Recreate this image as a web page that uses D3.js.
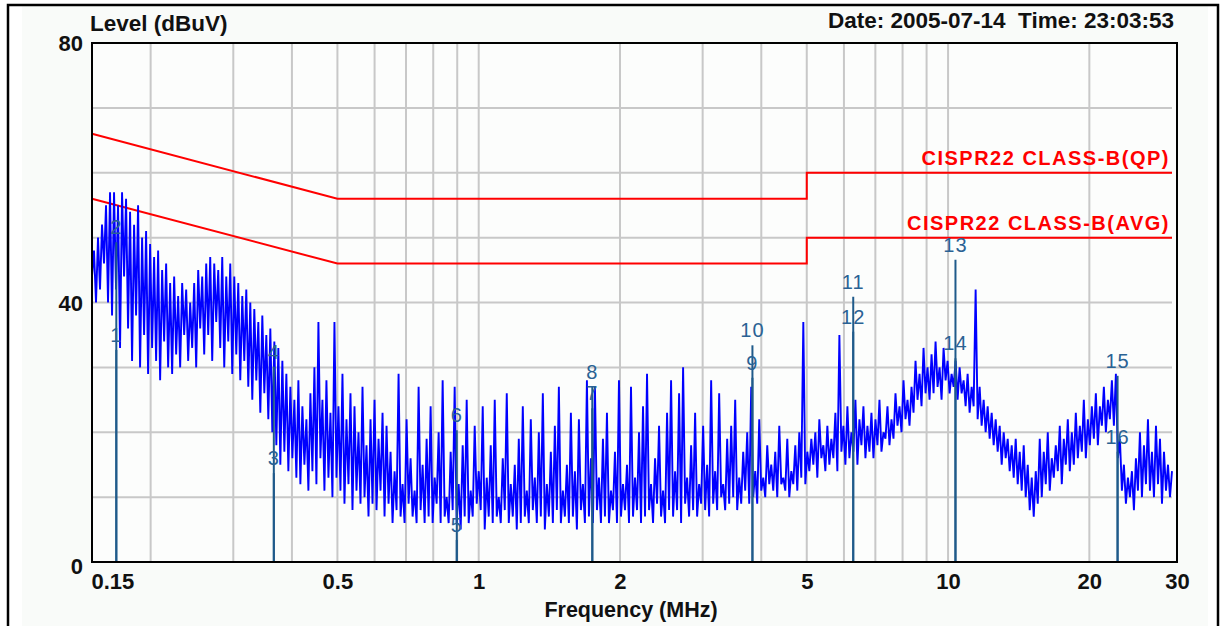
<!DOCTYPE html>
<html><head><meta charset="utf-8">
<script src="https://cdn.jsdelivr.net/npm/d3@7/dist/d3.min.js"></script>
<style>
html,body{margin:0;padding:0;background:#fff;}
svg{display:block;font-family:"Liberation Sans",Arial,sans-serif;}
</style></head>
<body>
<svg id="chart" width="1222" height="626"></svg>
<script>
// ---- data ----
const freqStart = 0.15, freqEnd = 30;           // sweep range, MHz (points log-spaced)
const levels = [
44,48,40,50,42,52,46,55,40,57,
38,57,42,55,33,57,44,56,36,54,
31,52,38,55,30,50,35,51,29,49,
33,47,31,48,28,45,34,46,30,43,
29,44,32,41,30,43,35,42,31,40,
33,43,30,45,36,44,32,46,35,47,
31,46,37,45,33,47,30,44,34,46,
29,44,32,43,28,41,31,42,27,40,
25,39,28,37,23,38,26,35,22,36,
20,34,18,33,15,31,17,29,14,27,
16,25,13,28,12,24,15,22,11,26,
14,30,12,37,16,25,11,28,13,23,
10,37,13,24,11,29,9,22,12,26,
8,24,11,20,9,27,10,18,7,22,
9,25,8,19,11,23,7,21,9,17,
6,14,8,29,7,12,6,22,9,16,
7,11,6,27,8,15,6,19,7,24,
6,13,9,20,6,28,7,10,6,17,
8,27,6,12,5,18,7,25,6,11,
7,21,9,14,8,24,5,13,7,18,
6,25,7,10,6,16,8,26,6,12,
7,15,5,19,6,24,7,11,6,22,
8,13,6,20,7,26,5,12,7,17,
6,21,8,27,6,11,7,15,6,23,
7,14,5,22,8,12,6,28,7,16,
6,27,8,13,6,19,7,23,6,11,
8,17,6,28,7,12,8,15,6,27,
7,13,8,20,6,24,7,29,8,12,
6,16,9,21,7,11,6,23,8,28,
7,14,8,26,6,30,9,13,7,18,
8,23,7,12,9,21,8,15,7,28,
9,14,8,26,10,12,8,19,9,21,
10,25,8,13,9,17,11,20,9,27,
10,14,9,22,11,13,10,18,12,15,
11,17,10,21,12,13,11,19,10,14,
12,18,11,20,13,37,12,17,14,19,
15,20,13,22,16,18,14,21,15,19,
16,23,14,35,17,21,15,24,16,20,
17,25,15,22,18,24,16,21,17,23,
16,22,18,25,17,20,19,24,18,22,
19,26,21,24,20,28,22,25,21,27,
23,31,25,29,24,33,26,30,25,32,
26,34,27,30,25,33,28,31,26,29,
27,31,25,30,26,28,24,29,23,27,
24,42,22,27,21,25,20,24,19,23,
18,22,17,21,15,20,16,19,14,18,
13,19,12,17,11,18,10,15,8,13,
7,14,9,19,10,17,12,20,11,16,
13,18,14,21,12,19,15,22,14,20,
15,23,16,21,17,25,16,22,18,24,
19,26,18,24,21,27,20,25,22,28,
21,29,16,19,11,15,9,13,10,14,
8,16,11,20,10,18,12,22,11,17,
10,21,12,19,9,17,11,15,10,14
];
const xTickValues = [0.15, 0.5, 1, 2, 5, 10, 20, 30];
const xGridValues = [0.2,0.3,0.4,0.5,0.6,0.7,0.8,0.9,1,2,3,4,5,6,7,8,9,10,20];
const yTickValues = [0, 40, 80];
const yGridValues = [10,20,30,40,50,60,70];
const qpLimitFreq = [0.15, 0.5, 5, 5, 30];
const qpLimitLevel = [66, 56, 56, 60, 60];
const avgLimitFreq = [0.15, 0.5, 5, 5, 30];
const avgLimitLevel = [56, 46, 46, 50, 50];
const markerIds = [1,2,3,4,5,6,7,8,9,10,11,12,13,14,15,16];
const markerFreqs = [0.169,0.169,0.366,0.366,0.898,0.898,1.746,1.746,3.83,3.83,6.28,6.28,10.37,10.37,22.97,22.97];
const markerLevels = [32.7,49.3,13.7,30.1,3.4,20.3,23.7,27.0,28.4,33.4,40.9,35.5,46.6,31.4,28.7,17.0];

// ---- layout ----
const svg = d3.select("#chart");
const L = 92, R = 1172, T = 43, B = 562, FR = 1177;
const x = d3.scaleLog().domain([freqStart, freqEnd]).range([L, R]);
const y = d3.scaleLinear().domain([0, 80]).range([B, T]);
const FONT = "'Liberation Sans',Arial,sans-serif";

// outer frame and panel
svg.append("rect").attr("x",0).attr("y",0).attr("width",1222).attr("height",626).attr("fill","#fff");
svg.append("rect").attr("x",22).attr("y",6).attr("width",1186).attr("height",640).attr("fill","#f9fbf9");
svg.append("path").attr("d","M8,640 V5 H1218 V640").attr("fill","none").attr("stroke","#000").attr("stroke-width",2.5);
svg.append("rect").attr("x",L).attr("y",T).attr("width",FR-L).attr("height",B-T).attr("fill","#fcfdfc");

// grid
const grid = svg.append("g").attr("stroke","#c8c8c8").attr("stroke-width",2);
grid.selectAll("line.v").data(xGridValues).join("line")
  .attr("x1",d=>x(d)).attr("x2",d=>x(d)).attr("y1",T).attr("y2",B);
grid.selectAll("line.h").data(yGridValues).join("line")
  .attr("x1",L).attr("x2",R).attr("y1",d=>y(d)).attr("y2",d=>y(d));

// limit lines
const limLine = d3.line().x(d=>x(d[0])).y(d=>y(d[1]));
svg.append("path").datum(d3.zip(qpLimitFreq,qpLimitLevel)).attr("d",limLine)
  .attr("fill","none").attr("stroke","#ff0000").attr("stroke-width",2);
svg.append("path").datum(d3.zip(avgLimitFreq,avgLimitLevel)).attr("d",limLine)
  .attr("fill","none").attr("stroke","#ff0000").attr("stroke-width",2);

// trace
const n = levels.length;
const logF = d3.scaleLinear().domain([0, n-1]).range([Math.log10(freqStart), Math.log10(freqEnd)]);
const trace = d3.line().x((d,i)=>x(Math.pow(10, logF(i)))).y(d=>y(d));
svg.append("path").datum(levels).attr("d",trace)
  .attr("fill","none").attr("stroke","#0000ff").attr("stroke-width",1.9).attr("stroke-linejoin","miter");

// limit labels
svg.append("text").attr("x",1170).attr("y",165).attr("text-anchor","end").attr("letter-spacing",1.5)
  .attr("fill","#ff0000").attr("font-weight","bold").attr("font-size",20).text("CISPR22 CLASS-B(QP)");
svg.append("text").attr("x",1170).attr("y",230).attr("text-anchor","end").attr("letter-spacing",1.5)
  .attr("fill","#ff0000").attr("font-weight","bold").attr("font-size",20).text("CISPR22 CLASS-B(AVG)");

// markers
const mk = svg.append("g");
const mdata = markerIds.map((id,i)=>({id, f:markerFreqs[i], v:markerLevels[i]}));
mk.selectAll("line").data(mdata).join("line")
  .attr("x1",d=>x(d.f)).attr("x2",d=>x(d.f)).attr("y1",B).attr("y2",d=>y(d.v))
  .attr("stroke","#1f5a8a").attr("stroke-width",2);
mk.selectAll("text").data(mdata).join("text")
  .attr("x",d=>x(d.f)).attr("y",d=>y(d.v)-8).attr("text-anchor","middle")
  .attr("fill","#2a6294").attr("font-size",20).attr("letter-spacing",1).text(d=>d.id);

// plot frame
svg.append("rect").attr("x",L).attr("y",T).attr("width",FR-L).attr("height",B-T)
  .attr("fill","none").attr("stroke","#000").attr("stroke-width",2);

// axes labels
const xAxis = d3.axisBottom(x).tickValues(xTickValues).tickSize(0).tickFormat(d3.format("~g"));
const gx = svg.append("g").attr("transform",`translate(0,${B})`).call(xAxis);
gx.select(".domain").remove();
gx.selectAll("text").attr("font-size",22).attr("font-weight","bold").attr("fill","#111")
  .attr("font-family",FONT).attr("dy","0").attr("y",27);
gx.selectAll(".tick").filter(d=>d===0.15).select("text").attr("text-anchor","start").attr("x",-1);
gx.selectAll(".tick").filter(d=>d===30).select("text").attr("x",FR-R);

const yAxis = d3.axisLeft(y).tickValues(yTickValues).tickSize(0);
const gy = svg.append("g").attr("transform",`translate(${L},0)`).call(yAxis);
gy.select(".domain").remove();
gy.selectAll("text").attr("font-size",22).attr("font-weight","bold").attr("fill","#111")
  .attr("font-family",FONT).attr("x",-9).attr("dy","0.36em");
gy.selectAll(".tick").filter(d=>d===0).select("text").attr("dy","0.5em");

svg.append("text").attr("x",90).attr("y",31).attr("font-weight","bold").attr("font-size",22.5)
  .attr("fill","#111").text("Level (dBuV)");
svg.append("text").attr("x",1174).attr("y",28).attr("text-anchor","end").attr("font-weight","bold").attr("font-size",22.5)
  .attr("fill","#111").style("white-space","pre").text("Date: 2005-07-14  Time: 23:03:53");
svg.append("text").attr("x",631).attr("y",617).attr("text-anchor","middle").attr("font-weight","bold").attr("font-size",21.5)
  .attr("fill","#111").text("Frequency (MHz)");
</script>
</body></html>
